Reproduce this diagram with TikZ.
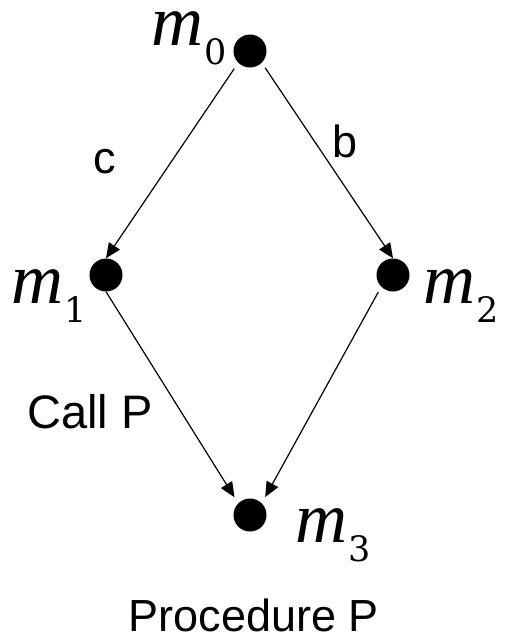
\documentclass[tikz,border=0pt]{standalone}
\usepackage{fontspec}
\setmainfont{Liberation Sans}
\newfontfamily\mserif{Liberation Serif}
\newfontfamily\dserif{DejaVu Serif}
\usetikzlibrary{arrows.meta}
\newcommand{\mlabel}[1]{{\mserif\itshape\fontsize{72}{72}\selectfont m}\hspace{1pt}\raisebox{-19pt}{\dserif\fontsize{35}{35}\selectfont #1}}
\tikzset{
  dot/.style={circle,fill=black,inner sep=0pt,minimum size=33pt},
  mtext/.style={anchor=base west,inner sep=0pt},
  stext/.style={inner sep=0pt,font=\fontsize{45}{45}\selectfont},
  conn/.style={line width=1.2pt,-{Triangle[length=15pt,width=13pt]}}
}
\begin{document}
\begin{tikzpicture}[x=1pt,y=-1pt]
\useasboundingbox (0,0) rectangle (506,641);
\node[dot] (m0) at (250,51) {};
\node[dot] (m1) at (106,275) {};
\node[dot] (m2) at (393,275) {};
\node[dot] (m3) at (250,515) {};
\node[mtext] (l0) at (151,45) {\mlabel{0}};
\node[mtext] (l1) at (11,303) {\mlabel{1}};
\node[mtext] (l2) at (423,303) {\mlabel{2}};
\node[mtext] (l3) at (295,542) {\mlabel{3}};
\draw[conn,shorten <=7pt] (m0.225) -- (m1.90);
\draw[conn,shorten <=6pt] (m0.315) -- (m2.90);
\draw[conn,shorten >=7pt] (m1.270) -- (m3.135);
\draw[conn,shorten <=6pt,shorten >=7pt] (m2.225) -- (m3.45);
\node[stext,anchor=base west] (c) at (93,173) {c};
\node[stext,anchor=base west] (b) at (332,157) {b};
\node[stext,anchor=base west,font=\fontsize{47}{47}\selectfont] (call) at (27,428) {Call P};
\node[stext,anchor=base] (proc) at (254,631) {Procedure P};
\end{tikzpicture}
\end{document}
